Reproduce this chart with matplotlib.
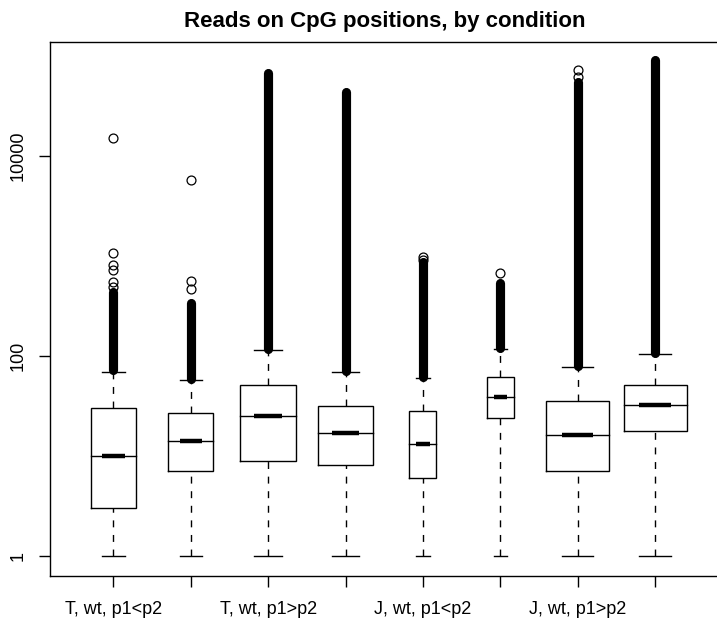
import matplotlib
matplotlib.use("Agg")
import matplotlib.pyplot as plt

# values (reads per CpG, log scale)
labels = ["T, wt, p1<p2", "", "T, wt, p1>p2", "", "J, wt, p1<p2", "", "J, wt, p1>p2", ""]
whisk_lo = [1, 1, 1, 1, 1, 1, 1, 1]
q1 = [3.0, 7.1, 8.9, 8.1, 6.0, 23.8, 7.1, 17.8]
median = [10.1, 14.1, 25.0, 17.0, 13.1, 38.9, 16.1, 32.1]
q3 = [30.0, 27.1, 51.0, 32.0, 28.6, 62.0, 35.5, 51.7]
whisk_hi = [70, 57.5, 114, 69, 60, 117, 77, 105]
# dense runs of outliers (they merge into a solid bar)
band_lo = [72, 59, 117, 71, 62, 120, 79, 108]
band_hi = [440, 340, 67100, 43300, 870, 533, 55300, 91200]
# single outliers that stand apart
outliers = [
    [493, 553, 724, 813, 1064, 15200],
    [468, 562, 5750],
    [],
    [],
    [920, 985],
    [681],
    [62100, 72400],
    [],
]

BOX_WIDTHS = [0.58, 0.58, 0.72, 0.72, 0.35, 0.35, 0.815, 0.815]

plt.rcParams['font.family'] = ['Liberation Sans', 'DejaVu Sans']

fig = plt.figure(figsize=(7.17, 6.2), dpi=100)
ax = fig.add_axes([50 / 717, 44 / 620, 668.5 / 717, 534 / 620])

ln = dict(color='black', lw=1.0)
for i in range(len(median)):
    x = i + 1
    w = BOX_WIDTHS[i]
    # box
    ax.plot([x - w / 2, x + w / 2, x + w / 2, x - w / 2, x - w / 2],
            [q1[i], q1[i], q3[i], q3[i], q1[i]], solid_joinstyle='miter', **ln)
    # median: thin across, thick in the middle
    ax.plot([x - w / 2, x + w / 2], [median[i]] * 2, **ln)
    ax.plot([x - w / 4, x + w / 4], [median[i]] * 2, color='black', lw=3.2,
            solid_capstyle='butt')
    # whiskers
    ax.plot([x, x], [whisk_lo[i], q1[i]], color='black', lw=1.0, dashes=(5, 5.5))
    ax.plot([x, x], [q3[i], whisk_hi[i]], color='black', lw=1.0, dashes=(5, 5.5))
    ax.plot([x - w / 4, x + w / 4], [whisk_lo[i]] * 2, **ln)
    ax.plot([x - w / 4, x + w / 4], [whisk_hi[i]] * 2, **ln)
    # outliers
    ax.plot([x, x], [band_lo[i], band_hi[i]], color='black', lw=6.6,
            solid_capstyle='round')
    if outliers[i]:
        ax.plot([x] * len(outliers[i]), outliers[i], 'o', ms=6.4, mfc='none',
                mec='black', mew=0.9)

ax.set_yscale('log')
ax.set_ylim(10 ** -0.198, 10 ** 5.14)
ax.set_xlim(0.18, 8.82)
ax.set_yticks([1, 100, 10000])
ax.set_yticklabels(["1", "100", "10000"], rotation=90, va='center')
ax.minorticks_off()
ax.set_xticks(range(1, len(labels) + 1))
ax.set_xticklabels(labels)
ax.tick_params(axis='both', direction='out', length=8, width=1.0, labelsize=13)
ax.tick_params(axis='y', pad=9)
ax.tick_params(axis='x', pad=10)
for s in ax.spines.values():
    s.set_linewidth(1.0)

ax.set_title("Reads on CpG positions, by condition", fontsize=16, fontweight='bold',
             pad=11)

fig.savefig("out.png", dpi=100)
